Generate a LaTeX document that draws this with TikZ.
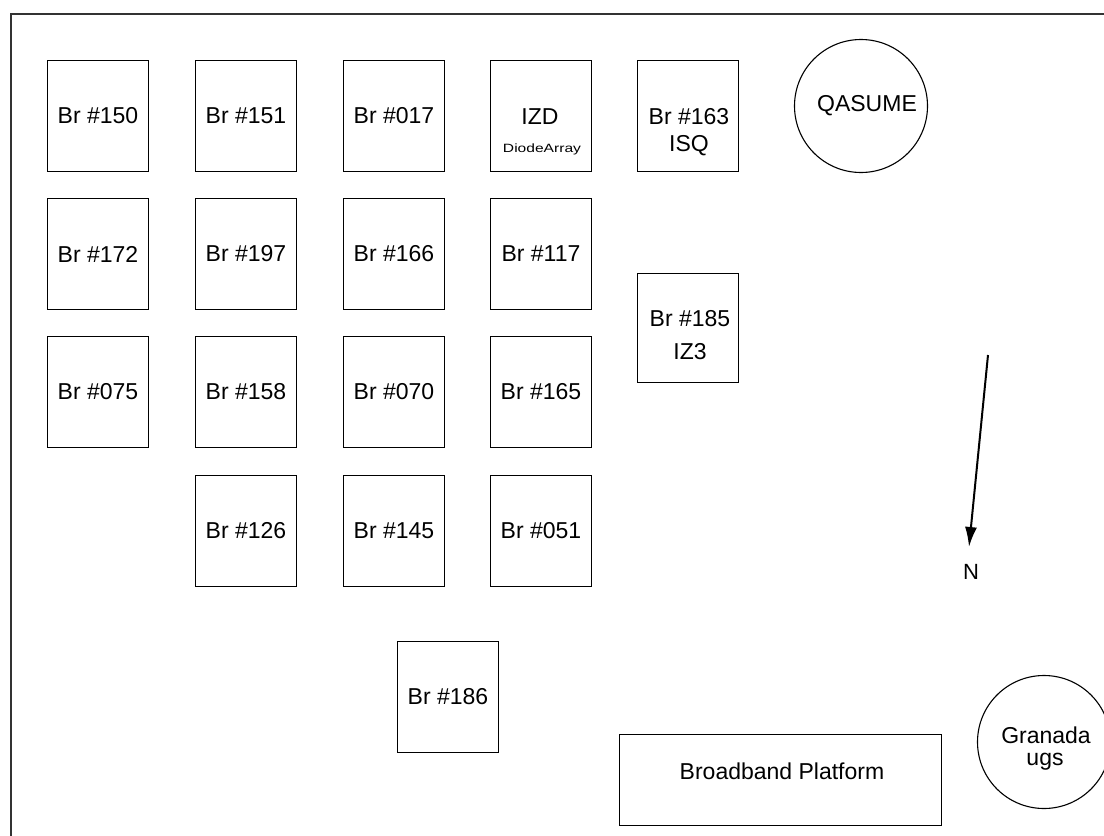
\documentclass[tikz,border=0pt]{standalone}
\usepackage{fontspec}
\setmainfont{Liberation Sans}
\usetikzlibrary{arrows.meta}
\tikzset{
  bx/.style={draw=black, line width=1.3pt, minimum width=101pt, minimum height=111pt, inner sep=0pt, font=\fontsize{23}{26}\selectfont},
  lbl/.style={inner sep=0pt, font=\fontsize{23}{26}\selectfont},
  smalllbl/.style={inner sep=0pt, font=\fontsize{12}{14}\selectfont},
  ring/.style={draw=black, line width=1.1pt, circle, minimum size=133pt, inner sep=0pt},
  frame/.style={draw=black!80, line width=2pt},
  northarrow/.style={line width=2pt, -{Latex[length=20pt,width=12pt]}}
}
\begin{document}
\begin{tikzpicture}[x=1pt,y=-1pt]
\useasboundingbox (0,0) rectangle (1104,836);
\clip (0,0) rectangle (1104,836);
\fill[white] (0,0) rectangle (1104,836);
\draw[frame] (11,14) rectangle (1130,860);
% row 1
\node[bx] (b150) at (98,116) {Br \#150};
\node[bx] (b151) at (246,116) {Br \#151};
\node[bx] (b017) at (394,116) {Br \#017};
\node[bx] (izd) at (541,116) {};
\node[lbl] (izdt) at (540,117) {IZD};
\node[smalllbl] (izds) at (542,149) {\scalebox{1.3}[1]{DiodeArray}};
\node[bx] (b163) at (688,116) {};
\node[lbl] (b163t) at (689,117) {Br \#163};
\node[lbl] (b163s) at (689,146) {ISQ};
% row 2
\node[bx] (b172) at (98,254) {Br \#172};
\node[bx] (b197) at (246,254) {Br \#197};
\node[bx] (b166) at (394,254) {Br \#166};
\node[bx] (b117) at (541,254) {Br \#117};
% row 3
\node[bx] (b075) at (98,392) {Br \#075};
\node[bx] (b158) at (246,392) {Br \#158};
\node[bx] (b070) at (394,392) {Br \#070};
\node[bx] (b165) at (541,392) {Br \#165};
% row 4
\node[bx] (b126) at (246,531) {Br \#126};
\node[bx] (b145) at (394,531) {Br \#145};
\node[bx] (b051) at (541,531) {Br \#051};
% Br 185
\node[bx, minimum height=109pt] (b185) at (688,328) {};
\node[lbl] (b185t) at (690,319) {Br \#185};
\node[lbl] (b185s) at (690,352) {IZ3};
% Br 186
\node[bx] (b186) at (448,697) {Br \#186};
% broadband platform
\node[bx, minimum width=322pt, minimum height=91pt] (bbp) at (780.5,780) {};
\node[lbl] (bbpt) at (782,771) {Broadband Platform};
% circles
\node[ring] (qasume) at (861,106) {};
\node[lbl] (qasumet) at (867,106) {QASUME};
\node[ring] (granada) at (1044,742) {};
\node[lbl] (granadat) at (1046,735) {Granada};
\node[lbl] (granadas) at (1045,762) {ugs};
% north arrow
\coordinate (astart) at (988,355);
\coordinate (atip) at (969,547);
\draw[northarrow] (astart) -- (atip);
\node[lbl, font=\fontsize{22}{24}\selectfont] (north) at (971,572) {N};
\end{tikzpicture}
\end{document}
